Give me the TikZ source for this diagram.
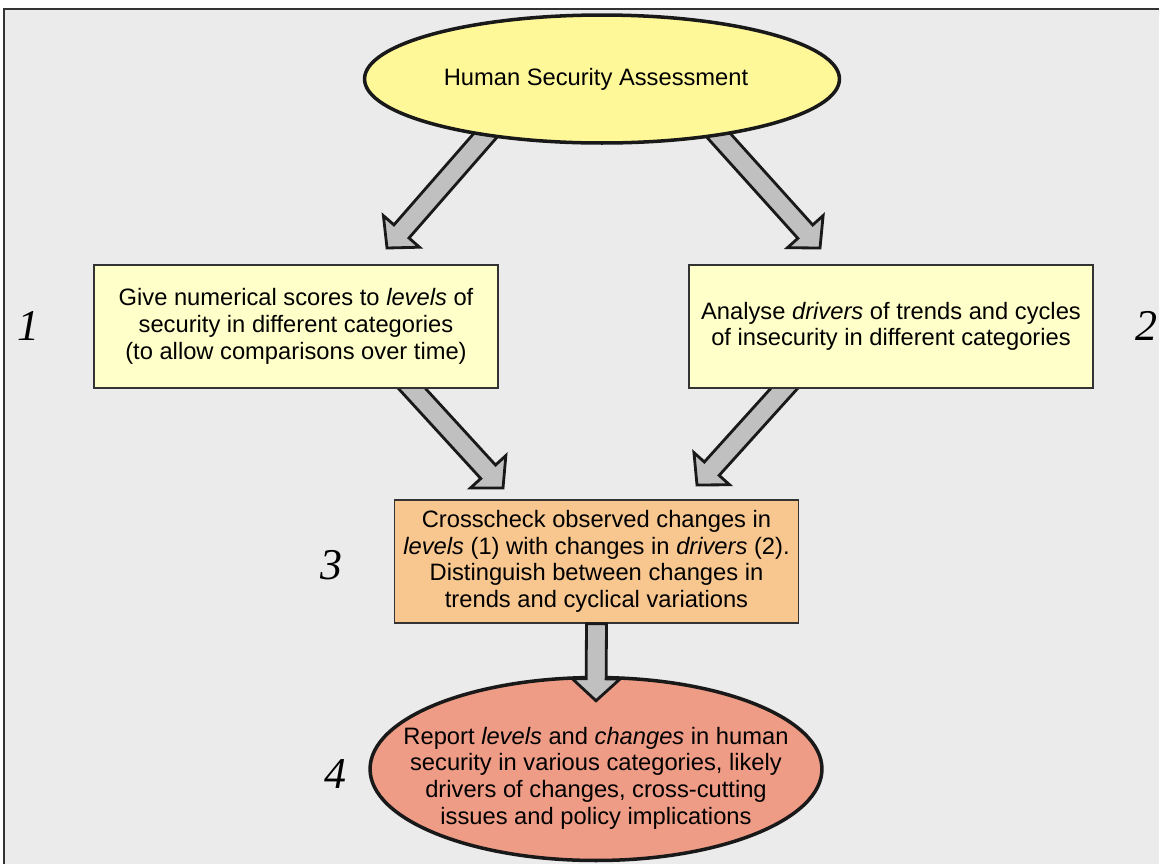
\documentclass[tikz,border=0pt]{standalone}
\usepackage{fontspec}
\setmainfont{Liberation Sans}
\newfontfamily\numfont{Liberation Serif}
\usetikzlibrary{shapes.geometric, positioning, calc}
\definecolor{paperbg}{HTML}{EBEBEB}
\definecolor{hsafill}{HTML}{FFF899}
\definecolor{boxfill}{HTML}{FFFFC9}
\definecolor{chkfill}{HTML}{F8C68F}
\definecolor{repfill}{HTML}{EF9C86}
\definecolor{arrowfill}{HTML}{C0C0C0}
\pgfdeclarelayer{paper}
\pgfdeclarelayer{under}
\pgfsetlayers{paper,under,main}
\tikzset{
  oval/.style={ellipse, draw=black!90, line width=2pt, inner sep=0pt},
  txt/.style={align=center, font=\fontsize{13.5}{15.2}\selectfont},
  stage/.style={rectangle, draw=black!80, line width=0.9pt, fill=boxfill,
                minimum width=8.08cm, minimum height=2.46cm, align=center,
                font=\fontsize{13.5}{15.2}\selectfont},
  num/.style={font=\numfont\fontsize{25}{30}\selectfont\itshape},
  barrow/.style={fill=arrowfill, draw=black!90, line width=1.6pt, line join=miter},
  frame/.style={fill=paperbg, draw=black!80, line width=1.3pt},
}
% block arrow from coordinate #1 to tip #2
\newcommand{\blockarrow}[2]{%
  \coordinate (ah) at ($(#2)!0.44cm!(#1)$);
  \filldraw[barrow] ($(#1)!0.2cm!90:(#2)$) -- ($(ah)!0.2cm!90:(#2)$)
    -- ($(ah)!0.48cm!90:(#2)$) -- (#2) -- ($(ah)!0.48cm!-90:(#2)$)
    -- ($(ah)!0.2cm!-90:(#2)$) -- ($(#1)!0.2cm!-90:(#2)$) -- cycle;
}
\begin{document}
\begin{tikzpicture}[x=0.02cm, y=-0.02cm]
  \useasboundingbox (0,0) rectangle (1159,863);

  %% -- background panel --
  \begin{pgfonlayer}{paper}
    \draw[frame] (4,9) rectangle (1190,900);
  \end{pgfonlayer}

  %% -- nodes --
  \node[oval, fill=hsafill, minimum width=9.5cm, minimum height=2.56cm] (hsa) at (602,79) {};
  \node[txt] (hsatext) at (596,79) {Human Security Assessment};
  \node[stage] (lev) at (296,326.5)
    {Give numerical scores to \textit{levels} of\\security in different categories\\(to allow comparisons over time)};
  \node[stage] (drv) at (891,326.5)
    {Analyse \textit{drivers} of trends and cycles\\of insecurity in different categories};
  \node[stage, fill=chkfill] (chk) at (596.5,561.5)
    {Crosscheck observed changes in\\\textit{levels} (1) with changes in \textit{drivers} (2).\\Distinguish between changes in\\trends and cyclical variations};
  \node[oval, fill=repfill, minimum width=9.04cm, minimum height=3.66cm] (rep) at (596,769) {};
  \node[txt] (reptext) at (596,778)
    {Report \textit{levels} and \textit{changes} in human\\security in various categories, likely\\drivers of changes, cross-cutting\\issues and policy implications};

  %% -- step numbers --
  \node[num] (n1) at (28,326) {1};
  \node[num] (n2) at (1146,326) {2};
  \node[num] (n3) at (331,565) {3};
  \node[num] (n4) at (335,774) {4};

  %% -- arrow ends --
  \coordinate (t1) at (387,248);
  \coordinate (t2) at (820,248);
  \coordinate (t3) at (503,488);
  \coordinate (t4) at (697,485);
  \coordinate (t5) at ($(rep.north)+(0,25)$);
  \coordinate (s1) at ($(hsa.206)!-0.4cm!(t1)$);
  \coordinate (s2) at ($(hsa.334)!-0.4cm!(t2)$);
  \coordinate (s3) at ($(lev.south)+(102.5,-15)$);
  \coordinate (s4) at ($(drv.south)+(-93.6,-15)$);

  %% -- arrows --
  \begin{pgfonlayer}{under}
    \foreach \a/\b in {s1/t1, s2/t2, s3/t3, s4/t4}{
      \blockarrow{\a}{\b}
    }
  \end{pgfonlayer}
  \blockarrow{chk.south}{t5}

\end{tikzpicture}
\end{document}
